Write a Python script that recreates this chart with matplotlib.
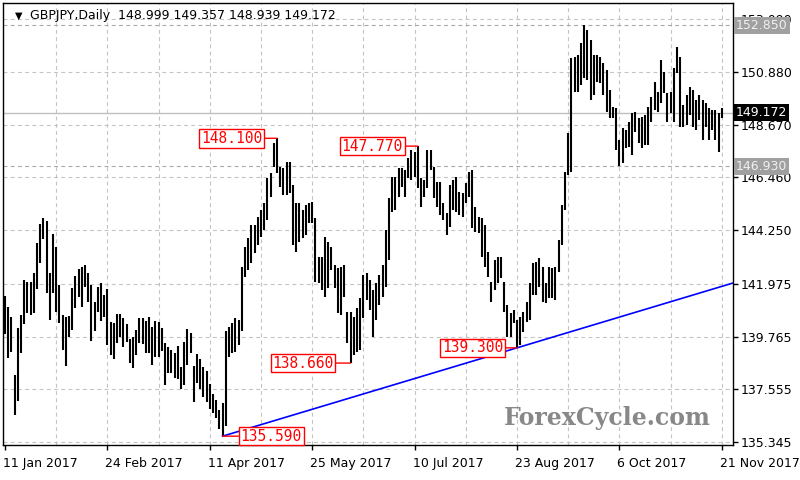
import numpy as np
import matplotlib
matplotlib.use("Agg")
import matplotlib.pyplot as plt
import matplotlib.transforms as mtransforms

# daily GBPJPY bars, 11 Jan 2017 .. 21 Nov 2017 (one entry per bar)
highs = [
    141.48, 141.02, 140.60, 138.16, 140.13, 140.68, 142.15, 142.07, 142.07, 142.44,
    143.70, 144.50, 144.75, 144.63, 142.44, 144.08, 143.54, 141.94, 140.68, 140.60,
    140.64, 141.81, 142.32, 142.61, 142.70, 142.78, 142.44, 141.94, 141.23, 141.86,
    142.02, 141.52, 141.77, 140.39, 140.34, 140.72, 140.72, 140.55, 140.30, 139.67,
    139.76, 140.05, 140.55, 140.55, 140.43, 140.60, 140.17, 140.43, 140.39, 140.13,
    139.50, 139.34, 139.21, 139.08, 139.38, 138.50, 139.55, 140.09, 139.92, 138.54,
    139.04, 138.83, 138.50, 138.33, 137.78, 137.36, 137.11, 136.69, 136.98, 140.01,
    140.17, 140.34, 140.55, 140.47, 142.70, 143.54, 143.91, 144.46, 144.46, 144.80,
    145.09, 145.38, 146.43, 146.64, 147.90, 148.10, 146.90, 146.85, 147.11, 147.11,
    146.14, 145.38, 145.38, 145.09, 145.30, 145.38, 145.43, 144.75, 143.12, 143.12,
    143.96, 143.75, 143.54, 142.78, 142.65, 142.70, 142.78, 140.81, 140.81, 140.60,
    140.97, 141.39, 142.36, 142.44, 142.15, 141.73, 142.02, 142.36, 142.78, 144.25,
    145.59, 146.48, 146.48, 146.85, 146.85, 146.77, 147.27, 147.61, 147.52, 147.77,
    146.43, 146.35, 147.61, 147.61, 146.90, 146.27, 146.27, 145.38, 144.96, 146.14,
    146.35, 146.48, 145.85, 145.80, 146.22, 146.69, 146.77, 145.22, 144.80, 144.75,
    144.46, 143.33, 142.07, 142.99, 143.12, 143.12, 142.07, 141.10, 140.76, 140.89,
    140.47, 140.60, 140.81, 141.23, 142.02, 142.86, 142.91, 143.07, 142.70, 142.02,
    142.70, 142.65, 142.70, 143.83, 145.30, 146.69, 148.32, 151.47, 151.52, 151.60,
    152.10, 152.85, 152.65, 152.23, 151.60, 151.60, 151.52, 151.26, 150.97, 150.13,
    149.42, 149.37, 148.03, 148.53, 148.45, 148.79, 149.16, 149.21, 148.95, 149.00,
    149.08, 149.42, 149.84, 150.47, 150.05, 151.39, 150.89, 150.00, 150.05, 151.05,
    151.94, 151.52, 149.50, 149.92, 150.26, 150.13, 149.71, 149.92, 149.71, 149.58,
    149.37, 149.29, 149.29, 149.16, 149.357,
]
lows = [
    139.88, 138.87, 139.13, 136.48, 137.07, 139.08, 140.30, 140.76, 140.68, 140.76,
    141.77, 142.86, 143.87, 141.60, 140.47, 141.60, 140.81, 140.34, 139.21, 138.54,
    139.76, 140.05, 140.97, 141.44, 141.02, 141.86, 141.23, 139.59, 140.01, 140.81,
    140.43, 140.60, 139.42, 139.00, 138.83, 139.50, 139.76, 139.34, 139.55, 138.66,
    138.45, 139.00, 139.50, 139.46, 139.08, 139.08, 138.58, 138.92, 138.92, 139.17,
    137.74, 138.24, 138.24, 138.03, 137.99, 137.57, 137.74, 138.58, 139.08, 137.03,
    137.82, 137.57, 137.24, 137.03, 136.73, 136.56, 136.35, 135.89, 135.59, 136.02,
    138.92, 139.08, 139.13, 139.42, 140.01, 142.28, 142.57, 142.86, 143.28, 143.62,
    143.96, 144.25, 144.67, 145.64, 146.90, 146.64, 146.06, 145.72, 145.72, 145.80,
    143.62, 143.33, 143.75, 143.91, 144.04, 144.54, 144.54, 142.07, 142.02, 141.73,
    141.44, 141.81, 142.57, 141.81, 140.76, 140.68, 141.44, 139.50, 138.66, 139.00,
    139.13, 139.21, 140.55, 141.31, 140.89, 139.76, 140.47, 141.10, 141.44, 141.86,
    142.99, 145.01, 145.09, 145.64, 146.06, 145.64, 146.43, 146.35, 146.48, 146.01,
    145.22, 145.64, 146.01, 146.77, 145.59, 145.22, 144.88, 144.67, 144.04, 144.38,
    145.09, 145.01, 144.88, 144.80, 145.38, 145.64, 144.33, 144.17, 144.12, 143.12,
    142.70, 142.28, 141.23, 141.73, 142.02, 142.23, 140.81, 139.76, 139.76, 140.34,
    139.30, 139.42, 139.97, 140.39, 140.47, 141.52, 141.52, 141.86, 141.23, 141.18,
    141.39, 141.39, 141.31, 142.49, 143.62, 145.09, 146.56, 146.69, 150.05, 150.05,
    150.34, 150.63, 150.55, 149.71, 149.92, 150.47, 150.42, 149.92, 149.21, 148.95,
    148.95, 147.61, 146.93, 147.05, 147.69, 147.74, 147.40, 148.37, 147.90, 147.69,
    147.82, 147.82, 148.79, 149.29, 149.21, 149.58, 150.00, 148.79, 149.16, 148.79,
    150.84, 148.58, 148.58, 148.66, 149.08, 148.58, 148.45, 148.87, 148.03, 148.58,
    148.03, 148.45, 148.03, 147.52, 148.939,
]

date_pos = [0, 32, 64, 96, 128, 160, 192, 224]
date_labels = ['11 Jan 2017', '24 Feb 2017', '11 Apr 2017', '25 May 2017',
               '10 Jul 2017', '23 Aug 2017', '6 Oct 2017', '21 Nov 2017']
price_ticks = [135.345, 137.555, 139.765, 141.975, 144.250,
               146.460, 148.670, 150.880, 153.090]

# swing points marked on the chart: (bar, price)
swing_marks = [(85, 148.100), (129, 147.770), (108, 138.660),
               (68, 135.590), (160, 139.300)]
trend_x = [68, 160]
trend_y = [135.59, 139.30]
last_price = 149.172
hlines = [152.850, 146.930]
header = 'GBPJPY,Daily  148.999 149.357 148.939 149.172'

W, H = 800, 480
fig = plt.figure(figsize=(W / 100, H / 100), dpi=100)
ax = fig.add_axes([3 / W, 35 / H, 730 / W, 442 / H])
ax.set_xlim(-0.6, 227.5)
ax.set_ylim(135.22, 153.78)

# grid
grid_kw = dict(color='#c4c4c4', lw=0.8, ls=(0, (3.5, 3)), zorder=0)
for gx in range(16, 225, 16):
    ax.axvline(gx, **grid_kw)
for gy in price_ticks:
    ax.axhline(gy, **grid_kw)

# level lines
for lv in hlines:
    ax.axhline(lv, color='#a8a8a8', lw=0.8, ls=(0, (3.5, 3)), zorder=1)
ax.axhline(last_price, color='#c0c0c0', lw=1.0, zorder=1)

# bars
idx = np.arange(len(highs))
ax.vlines(idx, lows, highs, color='black', lw=1.5, zorder=3)

# trend line
slope = (trend_y[1] - trend_y[0]) / (trend_x[1] - trend_x[0])
tx = np.array([trend_x[0], 230])
ax.plot(tx, trend_y[0] + slope * (tx - trend_x[0]), color='#0000ff', lw=1.2, zorder=4)

# swing labels
offsets = {85: -15, 129: -15, 108: -17, 68: 18, 160: -14}
for bx, val in swing_marks:
    off = offsets[bx]
    ax.annotate(f'{val:.3f}', xy=(bx, val), xytext=(off, 0),
                textcoords='offset pixels',
                ha='right' if off < 0 else 'left', va='center',
                color='#ff0000', fontsize=10.5, family='DejaVu Sans Mono',
                bbox=dict(boxstyle='square,pad=0.12', fc='white', ec='#ff0000', lw=1),
                arrowprops=dict(arrowstyle='-', color='#ff0000', lw=1,
                                shrinkA=0, shrinkB=0),
                zorder=6)

# watermark
ax.text(607, 0, '', alpha=0)
fig.text(607 / W, 1 - 418 / H, 'ForexCycle.com', family='DejaVu Serif',
         weight='bold', fontsize=17, color='#888888', ha='center', va='center')

# axes styling
for s in ax.spines.values():
    s.set_color('black')
    s.set_linewidth(1.0)
ax.yaxis.tick_right()
ax.set_yticks(price_ticks)
ax.set_yticklabels([f'{p:.3f}' for p in price_ticks])
ax.set_xticks(date_pos)
ax.set_xticklabels(date_labels, ha='left')
ax.tick_params(axis='y', direction='out', length=3.5, width=1, pad=2,
               labelsize=9, colors='black')
ax.tick_params(axis='x', direction='out', length=3.5, width=1, pad=5,
               labelsize=9, colors='black')
for lbl in ax.get_xticklabels():
    lbl.set_transform(lbl.get_transform() +
                      mtransforms.ScaledTranslation(-2 / 100, 0, fig.dpi_scale_trans))

# price boxes on the right axis
ytrans = ax.get_yaxis_transform()
for lv in hlines:
    ax.text(1.004, lv, f'{lv:.3f}', transform=ytrans, ha='left', va='center',
            fontsize=9, color='#f0f0f0',
            bbox=dict(boxstyle='square,pad=0.15', fc='#a0a0a0', ec='none'),
            clip_on=False, zorder=7)
ax.text(1.004, last_price, f'{last_price:.3f}', transform=ytrans, ha='left',
        va='center', fontsize=9, color='white',
        bbox=dict(boxstyle='square,pad=0.15', fc='black', ec='none'),
        clip_on=False, zorder=7)

# header
fig.text(15 / W, 1 - 16 / H, '\u25bc', fontsize=7, color='black', va='center')
fig.text(30 / W, 1 - 16 / H, header, fontsize=9, color='black', va='center')

fig.savefig('out.png', dpi=100, facecolor='white')
